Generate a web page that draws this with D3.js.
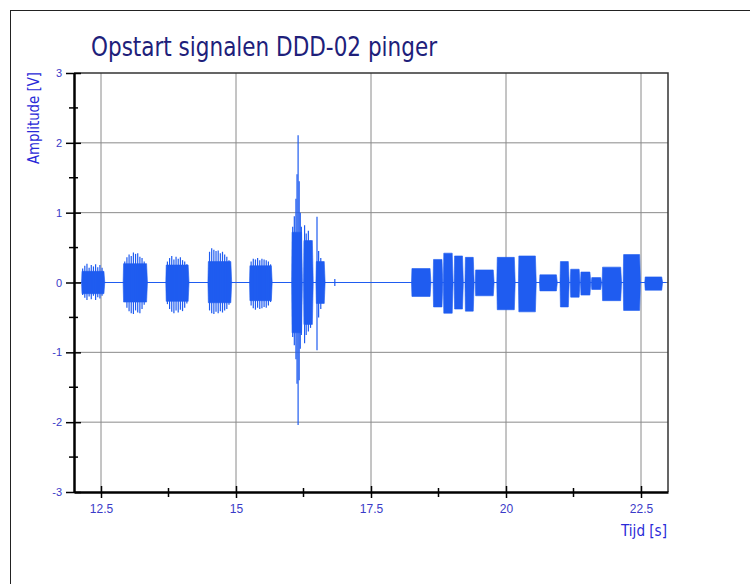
<!DOCTYPE html>
<html>
<head>
<meta charset="utf-8">
<script src="https://d3js.org/d3.v7.min.js"></script>
<style>
  body { margin: 0; background: #fff; }
  svg { font-family: "Liberation Sans", Arial, sans-serif; }
  .narrow { font-family: "Liberation Sans Narrow", "DejaVu Sans Condensed", "Liberation Sans", sans-serif; }
</style>
</head>
<body>
<svg id="chart"></svg>
<script>
// ---- data ----
const xTicks = [12.5, 15, 17.5, 20, 22.5];
const xMinor = [13.75, 16.25, 18.75, 21.25];
const yTicks = [-3, -2, -1, 0, 1, 2, 3];
const yMinor = [-2.5, -1.5, -0.5, 0.5, 1.5, 2.5];

// bursts: start / end time [s], core amplitude up / down [V]
const burstStart = [12.14, 12.91, 13.70, 14.48, 15.25, 16.03, 16.25, 16.48,
                    18.25, 18.65, 18.84, 19.04, 19.24, 19.43, 19.83, 20.23,
                    20.62, 21.00, 21.19, 21.38, 21.58, 21.78, 22.17, 22.57];
const burstEnd   = [12.57, 13.36, 14.13, 14.92, 15.67, 16.23, 16.43, 16.65,
                    18.61, 18.83, 19.02, 19.21, 19.41, 19.78, 20.17, 20.56,
                    20.95, 21.17, 21.37, 21.57, 21.77, 22.14, 22.49, 22.90];
const burstHi    = [0.16, 0.27, 0.25, 0.30, 0.24, 0.72, 0.60, 0.30,
                    0.20, 0.33, 0.42, 0.38, 0.36, 0.18, 0.36, 0.38,
                    0.11, 0.30, 0.19, 0.15, 0.07, 0.22, 0.40, 0.08];
const burstLo    = [-0.16, -0.28, -0.27, -0.29, -0.26, -0.72, -0.60, -0.30,
                    -0.20, -0.35, -0.44, -0.38, -0.41, -0.19, -0.39, -0.42,
                    -0.12, -0.35, -0.21, -0.18, -0.10, -0.26, -0.40, -0.11];

// individual peaks sticking out of the bursts
const spikeT  = [12.16, 12.20, 12.24, 12.28, 12.32, 12.36, 12.40, 12.44, 12.48, 12.52,
                 12.94, 12.98, 13.02, 13.06, 13.10, 13.14, 13.18, 13.22, 13.26, 13.30,
                 13.73, 13.77, 13.81, 13.85, 13.89, 13.93, 13.97, 14.01, 14.05, 14.09,
                 14.51, 14.55, 14.59, 14.63, 14.67, 14.71, 14.75, 14.79, 14.83, 14.87,
                 15.28, 15.32, 15.36, 15.40, 15.44, 15.48, 15.52, 15.56, 15.60, 15.64,
                 16.05, 16.08, 16.11, 16.13, 16.15, 16.17, 16.19, 16.21,
                 16.27, 16.30, 16.34, 16.38, 16.50, 16.53, 16.57, 16.83];
const spikeHi = [0.20, 0.24, 0.27, 0.21, 0.25, 0.23, 0.26, 0.22, 0.25, 0.21,
                 0.30, 0.36, 0.40, 0.38, 0.43, 0.41, 0.42, 0.37, 0.35, 0.30,
                 0.30, 0.35, 0.38, 0.33, 0.37, 0.34, 0.36, 0.32, 0.30, 0.26,
                 0.44, 0.49, 0.47, 0.45, 0.46, 0.42, 0.44, 0.40, 0.37, 0.32,
                 0.30, 0.34, 0.33, 0.35, 0.32, 0.34, 0.33, 0.32, 0.30, 0.26,
                 0.80, 0.95, 1.20, 1.55, 2.11, 1.45, 1.00, 0.80,
                 0.82, 0.70, 0.74, 0.60, 0.94, 0.45, 0.35, 0.05];
const spikeLo = [-0.18, -0.22, -0.25, -0.20, -0.24, -0.19, -0.25, -0.21, -0.23, -0.19,
                 -0.28, -0.36, -0.41, -0.44, -0.45, -0.40, -0.43, -0.44, -0.38, -0.32,
                 -0.31, -0.38, -0.42, -0.44, -0.40, -0.43, -0.39, -0.41, -0.36, -0.30,
                 -0.40, -0.44, -0.45, -0.42, -0.44, -0.41, -0.43, -0.40, -0.38, -0.32,
                 -0.33, -0.37, -0.39, -0.36, -0.38, -0.37, -0.35, -0.36, -0.33, -0.28,
                 -0.78, -0.90, -1.10, -1.45, -2.04, -1.40, -0.95, -0.75,
                 -0.87, -0.75, -0.70, -0.65, -0.97, -0.50, -0.38, -0.05];

const baseline = [12.12, 22.97];

// ---- layout ----
const W = 750, H = 584;
const plot = { left: 74, right: 668, top: 73, bottom: 492 };
const blue = "#1f5cf0", labelBlue = "#3a3ac8";

const svg = d3.select("#chart").attr("width", W).attr("height", H);

// outer frame (runs off the page at right / bottom)
svg.append("rect")
    .attr("x", 10.5).attr("y", 10.5)
    .attr("width", W).attr("height", H)
    .attr("fill", "none").attr("stroke", "#222").attr("stroke-width", 1);

const x = d3.scaleLinear().domain([12, 23]).range([plot.left, plot.right]);
const y = d3.scaleLinear().domain([-3, 3]).range([plot.bottom, plot.top]);

// grid
svg.append("g").selectAll("line")
    .data(xTicks).join("line")
    .attr("x1", d => x(d)).attr("x2", d => x(d))
    .attr("y1", plot.top).attr("y2", plot.bottom)
    .attr("stroke", "#8a8a8a").attr("stroke-width", 1);

svg.append("g").selectAll("line")
    .data(yTicks.filter(d => d > -3 && d < 3)).join("line")
    .attr("x1", plot.left).attr("x2", plot.right)
    .attr("y1", d => y(d)).attr("y2", d => y(d))
    .attr("stroke", "#8a8a8a").attr("stroke-width", 1);

// top and right border of the plot
svg.append("path")
    .attr("d", `M${plot.left},${y(3)}H${plot.right}V${plot.bottom}`)
    .attr("fill", "none").attr("stroke", "#333").attr("stroke-width", 1.5);

// signal
const bursts = burstStart.map((s, i) => ({ s, e: burstEnd[i], hi: burstHi[i], lo: burstLo[i] }));
const ramp = 0.008;
const g = svg.append("g");

g.append("line")
    .attr("x1", x(baseline[0])).attr("x2", x(baseline[1]))
    .attr("y1", y(0)).attr("y2", y(0))
    .attr("stroke", blue).attr("stroke-width", 1);

g.selectAll("path.burst")
    .data(bursts).join("path")
    .attr("class", "burst")
    .attr("d", b => d3.line()([
        [x(b.s), y(0)], [x(b.s + ramp), y(b.hi)], [x(b.e - 2 * ramp), y(b.hi)],
        [x(b.e), y(0)], [x(b.e - 2 * ramp), y(b.lo)], [x(b.s + ramp), y(b.lo)]
    ]) + "Z")
    .attr("fill", blue).attr("stroke", blue).attr("stroke-width", 0.6);

g.selectAll("line.spike")
    .data(spikeT.map((t, i) => ({ t, hi: spikeHi[i], lo: spikeLo[i] }))).join("line")
    .attr("class", "spike")
    .attr("x1", d => x(d.t)).attr("x2", d => x(d.t))
    .attr("y1", d => y(d.hi)).attr("y2", d => y(d.lo))
    .attr("stroke", blue).attr("stroke-width", 1.2);

// axes
const xAxis = svg.append("g")
    .attr("transform", `translate(0,${plot.bottom})`)
    .call(d3.axisBottom(x).tickValues(xTicks).tickSize(6).tickSizeOuter(0).tickFormat(d => String(d)));
xAxis.select(".domain").attr("stroke", "#000").attr("stroke-width", 2.5);
xAxis.selectAll(".tick line").attr("y1", -6).attr("y2", 6).attr("stroke", "#000").attr("stroke-width", 1.5);
xAxis.selectAll(".tick text").attr("y", 12).attr("fill", labelBlue).style("font-size", "12px");

xAxis.selectAll("line.minor")
    .data(xMinor).join("line")
    .attr("class", "minor")
    .attr("x1", d => x(d)).attr("x2", d => x(d))
    .attr("y1", -4).attr("y2", 5)
    .attr("stroke", "#000").attr("stroke-width", 1.5);

const yAxis = svg.append("g")
    .attr("transform", `translate(${plot.left},0)`)
    .call(d3.axisLeft(y).tickValues(yTicks).tickSize(8).tickSizeOuter(0).tickFormat(d => String(d)));
yAxis.select(".domain").attr("stroke", "#000").attr("stroke-width", 2.5);
yAxis.selectAll(".tick line").attr("x1", -8).attr("x2", 7).attr("stroke", "#000").attr("stroke-width", 1.5);
yAxis.selectAll(".tick text").attr("x", -12).attr("fill", labelBlue).style("font-size", "11px");

yAxis.selectAll("line.minor")
    .data(yMinor).join("line")
    .attr("class", "minor")
    .attr("x1", -5).attr("x2", 4)
    .attr("y1", d => y(d)).attr("y2", d => y(d))
    .attr("stroke", "#000").attr("stroke-width", 1.5);

// texts
svg.append("text")
    .attr("class", "narrow")
    .attr("x", 91).attr("y", 56)
    .attr("textLength", 346).attr("lengthAdjust", "spacingAndGlyphs")
    .attr("fill", "#20207a").style("font-size", "27px")
    .text("Opstart signalen DDD-02 pinger");

svg.append("text")
    .attr("class", "narrow")
    .attr("transform", "translate(39,118) rotate(-90)")
    .attr("text-anchor", "middle")
    .attr("textLength", 92).attr("lengthAdjust", "spacingAndGlyphs")
    .attr("fill", "#2a2ad8").style("font-size", "16px")
    .text("Amplitude [V]");

svg.append("text")
    .attr("class", "narrow")
    .attr("x", 667).attr("y", 536)
    .attr("text-anchor", "end")
    .attr("textLength", 46).attr("lengthAdjust", "spacingAndGlyphs")
    .attr("fill", "#2a2ad8").style("font-size", "16px")
    .text("Tijd [s]");
</script>
</body>
</html>
